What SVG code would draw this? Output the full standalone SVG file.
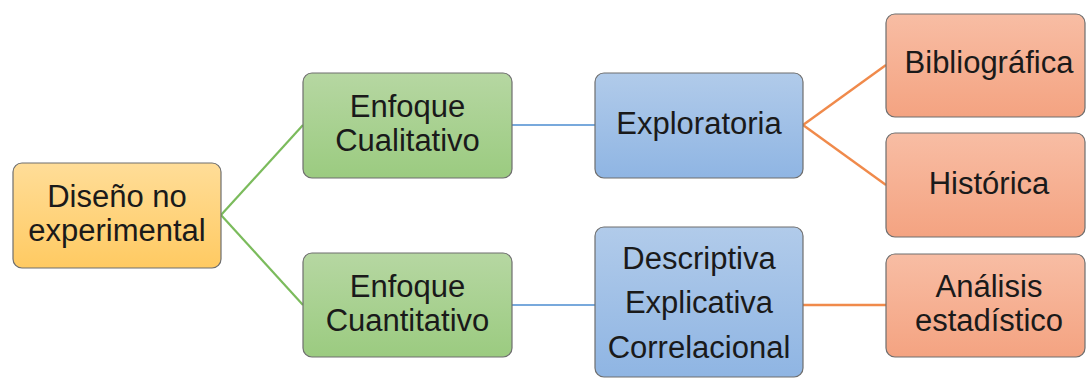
<svg xmlns="http://www.w3.org/2000/svg" width="1090" height="378" viewBox="0 0 1090 378">
<defs>
<linearGradient id="gy" x1="0" y1="0" x2="0" y2="1"><stop offset="0" stop-color="#ffdd98"/><stop offset="1" stop-color="#ffca62"/></linearGradient>
<linearGradient id="gg" x1="0" y1="0" x2="0" y2="1"><stop offset="0" stop-color="#b6d7a2"/><stop offset="1" stop-color="#9bcb80"/></linearGradient>
<linearGradient id="gb" x1="0" y1="0" x2="0" y2="1"><stop offset="0" stop-color="#b1cbea"/><stop offset="1" stop-color="#8fb5e3"/></linearGradient>
<linearGradient id="go" x1="0" y1="0" x2="0" y2="1"><stop offset="0" stop-color="#f8bda4"/><stop offset="1" stop-color="#f4a381"/></linearGradient>
</defs>
<style>
.box{stroke:#6e6e6e;stroke-width:1.2}
.t{font-family:"Liberation Sans",Arial,sans-serif;font-size:31px;fill:#1a1a1a;text-anchor:middle}
.cg{stroke:#7bbb5c;stroke-width:2.2;fill:none}
.cb{stroke:#78a9dc;stroke-width:2;fill:none}
.co{stroke:#f08a4b;stroke-width:2.4;fill:none}
</style>
<g id="connectors">
<line class="cg" x1="221" y1="215" x2="303" y2="125"/>
<line class="cg" x1="221" y1="215" x2="303" y2="305"/>
<line class="cb" x1="512" y1="125" x2="595" y2="125"/>
<line class="cb" x1="512" y1="305" x2="595" y2="305"/>
<line class="co" x1="803" y1="125" x2="886" y2="65"/>
<line class="co" x1="803" y1="125" x2="886" y2="185"/>
<line class="co" x1="803" y1="305" x2="886" y2="305"/>
</g>
<g id="n-diseno">
<rect class="box" x="13" y="163" width="208" height="105" rx="9" fill="url(#gy)"/>
<text class="t" x="117" y="207">Diseño no</text>
<text class="t" x="117" y="241">experimental</text>
</g>
<g id="n-cualitativo">
<rect class="box" x="303" y="73" width="209" height="105" rx="9" fill="url(#gg)"/>
<text class="t" x="407.5" y="117">Enfoque</text>
<text class="t" x="407.5" y="151">Cualitativo</text>
</g>
<g id="n-cuantitativo">
<rect class="box" x="303" y="253" width="209" height="104" rx="9" fill="url(#gg)"/>
<text class="t" x="407.5" y="297">Enfoque</text>
<text class="t" x="407.5" y="331">Cuantitativo</text>
</g>
<g id="n-exploratoria">
<rect class="box" x="595" y="73" width="208" height="105" rx="9" fill="url(#gb)"/>
<text class="t" x="699" y="134">Exploratoria</text>
</g>
<g id="n-descriptiva">
<rect class="box" x="595" y="227" width="208" height="150" rx="9" fill="url(#gb)"/>
<text class="t" x="699" y="269">Descriptiva</text>
<text class="t" x="699" y="313">Explicativa</text>
<text class="t" x="699" y="358">Correlacional</text>
</g>
<g id="n-bibliografica">
<rect class="box" x="886" y="14" width="199" height="103" rx="9" fill="url(#go)"/>
<text class="t" x="989" y="73">Bibliográfica</text>
</g>
<g id="n-historica">
<rect class="box" x="886" y="133" width="199" height="104" rx="9" fill="url(#go)"/>
<text class="t" x="989" y="194">Histórica</text>
</g>
<g id="n-analisis">
<rect class="box" x="886" y="254" width="199" height="103" rx="9" fill="url(#go)"/>
<text class="t" x="989" y="297">Análisis</text>
<text class="t" x="989" y="331">estadístico</text>
</g>
</svg>
